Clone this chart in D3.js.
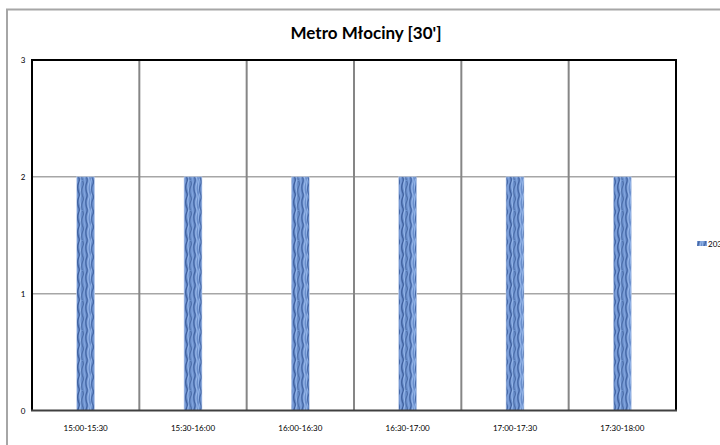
<!DOCTYPE html>
<html><head><meta charset="utf-8">
<script src="https://cdn.jsdelivr.net/npm/d3@7"></script>
<style>body{margin:0;background:#fff;}svg{display:block;}</style>
</head><body>
<svg id="c" width="720" height="445"></svg>
<script>
const categories = ["15:00-15:30","15:30-16:00","16:00-16:30","16:30-17:00","17:00-17:30","17:30-18:00"];
const values2030 = [2,2,2,2,2,2];
const yTicks = [0,1,2,3];
const seriesName = "2030";
const titleText = "Metro Młociny [30']";

const svg = d3.select("#c");
const font = "Lato, 'Open Sans', sans-serif";
const m = {l:32, t:60, r:676, b:410.5};

// outer frame
svg.append("rect").attr("x",7).attr("y",9.5).attr("width",760).attr("height",460)
  .attr("fill","none").attr("stroke","#a6a6a6").attr("stroke-width",2);

// texture pattern
const defs = svg.append("defs");
const pat = defs.append("pattern").attr("id","tex").attr("patternUnits","userSpaceOnUse")
  .attr("width",18).attr("height",30);
pat.append("rect").attr("width",18).attr("height",30).attr("fill","#6a8fcc");
const streaks = [[1,"#9dbdee",0,1.2],[2.5,"#3a5c9c",4,2],[4.5,"#86a8e2",10,1],[6.5,"#2d4c8a",2,1.6],[8.5,"#a3c2f2",14,1.2],[10.5,"#42639d",6,1.8],[12.5,"#8aace4",18,1],[14.5,"#365795",9,1.4],[16.5,"#a7c4f2",3,1.2]];
streaks.forEach(([x,c,o,a])=>{
  pat.append("path").attr("d",`M${x},${-5+o%7} q${a},3 0,6 q${-a},4 0,9 q${a},3 0,6 q${-a},4 0,9 q${a},3 0,6`)
    .attr("stroke",c).attr("stroke-width",1.2).attr("fill","none").attr("opacity",0.75);
});

const x = d3.scaleBand().domain(categories).range([m.l,m.r]);
const y = d3.scaleLinear().domain([0,3]).range([m.b,m.t]);

// horizontal gridlines
svg.append("g").selectAll("line").data(yTicks.filter(d=>d>0&&d<3)).join("line")
  .attr("x1",m.l).attr("x2",m.r).attr("y1",d=>y(d)).attr("y2",d=>y(d))
  .attr("stroke","#a6a6a6").attr("stroke-width",1.5);
// vertical gridlines
svg.append("g").selectAll("line").data(categories.slice(1)).join("line")
  .attr("x1",d=>x(d)).attr("x2",d=>x(d)).attr("y1",m.t).attr("y2",m.b)
  .attr("stroke","#868686").attr("stroke-width",2);

// bars
const bw = 18;
svg.append("g").selectAll("rect").data(values2030).join("rect")
  .attr("x",(d,i)=>x(categories[i])+x.bandwidth()/2-bw/2)
  .attr("y",d=>y(d)).attr("width",bw).attr("height",d=>y(0)-y(d))
  .attr("fill","url(#tex)").attr("stroke","#c9d6ee").attr("stroke-width",0.6);

// plot border
svg.append("path").attr("d",`M${m.l},${m.b} V${m.t} H${m.r} V${m.b}`)
  .attr("fill","none").attr("stroke","#000").attr("stroke-width",2);
svg.append("line").attr("x1",m.l-1).attr("x2",m.r+1).attr("y1",m.b).attr("y2",m.b)
  .attr("stroke","#404040").attr("stroke-width",2);

// y axis labels
svg.append("g").selectAll("text").data(yTicks).join("text")
  .attr("x",23).attr("y",d=>y(d)+3).attr("text-anchor","middle")
  .attr("font-family",font).attr("font-size",8).attr("fill","#000").text(d=>d);

// x axis labels
svg.append("g").selectAll("text").data(categories).join("text")
  .attr("x",d=>x(d)+x.bandwidth()/2).attr("y",431).attr("text-anchor","middle")
  .attr("font-family",font).attr("font-size",8).attr("fill","#000").text(d=>d);

// title
svg.append("text").attr("x",366).attr("y",39).attr("text-anchor","middle")
  .attr("font-family",font).attr("font-size",17).attr("font-weight","bold").text(titleText);

// legend
svg.append("rect").attr("x",697).attr("y",241).attr("width",10).attr("height",5).attr("fill","url(#tex)");
svg.append("text").attr("x",708).attr("y",246.5).attr("font-family",font).attr("font-size",8).text(seriesName);
</script>
</body></html>
